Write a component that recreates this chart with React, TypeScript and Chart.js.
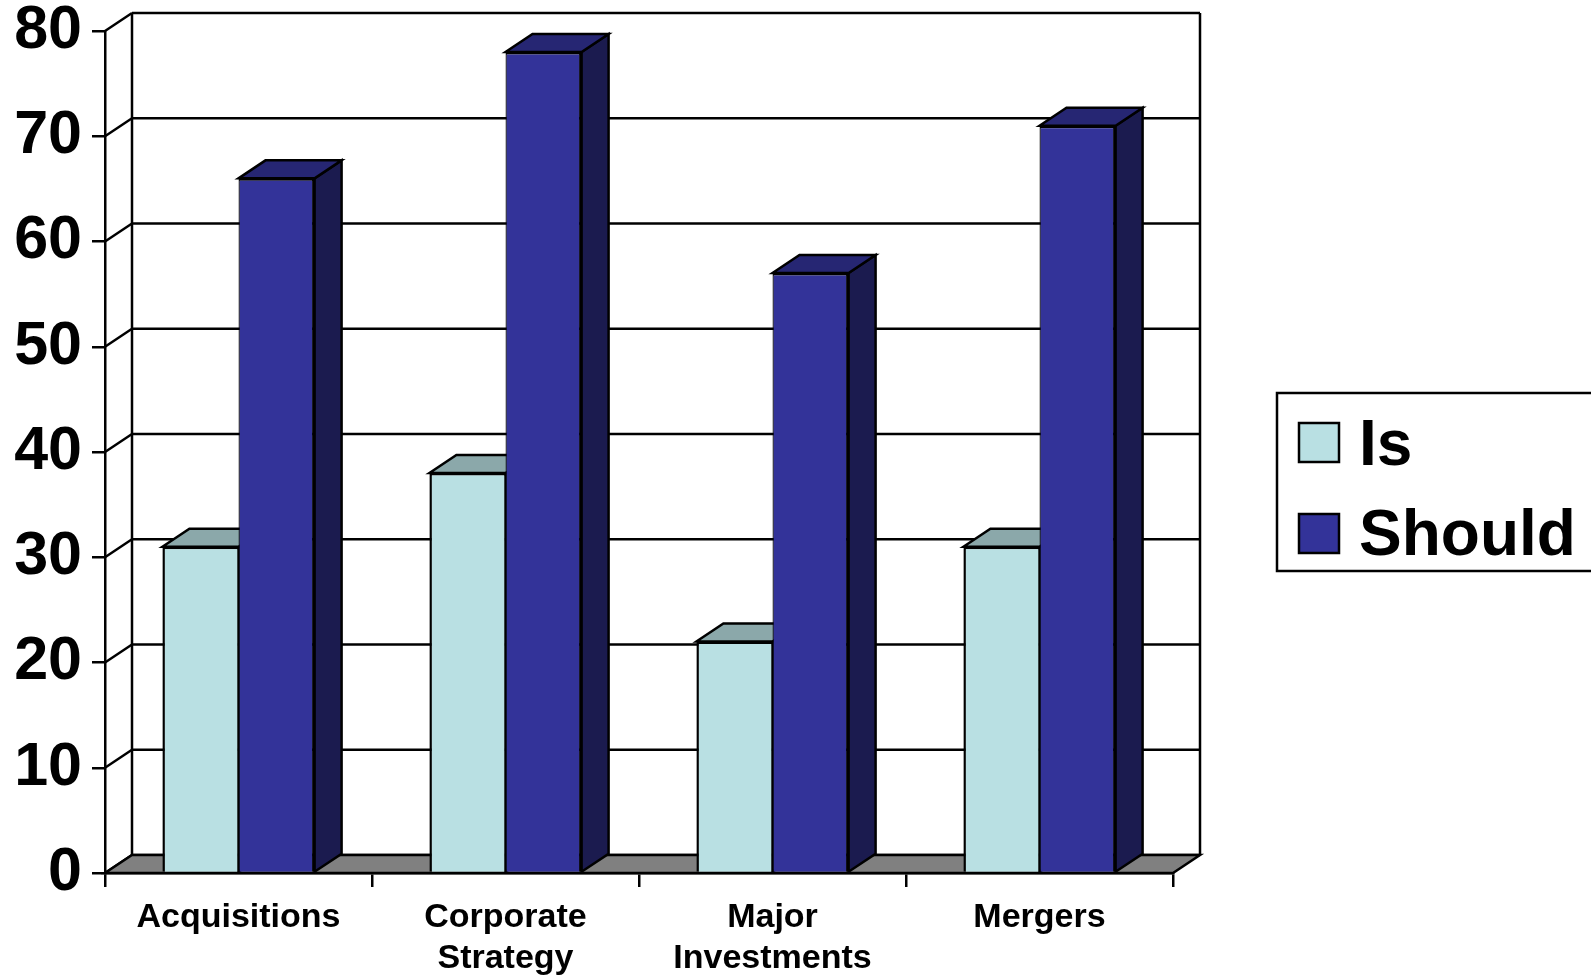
import React, { useEffect, useRef } from 'react';
import { Chart, registerables } from 'chart.js';

Chart.register(...registerables);

// ---- data ----
const categories: string[][] = [['Acquisitions'], ['Corporate', 'Strategy'], ['Major', 'Investments'], ['Mergers']];
const seriesNames = ['Is', 'Should'];
const isValues = [31, 38, 22, 31];
const shouldValues = [66, 78, 57, 71];
const yMin = 0;
const yMax = 80;
const yStep = 10;

// ---- styles ----
const FONT = '"Liberation Sans", Arial, Helvetica, sans-serif';
const frontColors = ['#B9E0E3', '#333399'];
const topColors = ['#8BA8AA', '#262673'];
const sideColors = ['#5D7072', '#1B1B4F'];
const DX = 27;
const DY = 18;
const LW = 2.5;

const threeD = {
  id: 'threeD',
  beforeDatasetsDraw(chart: any) {
    const { ctx, chartArea, scales } = chart;
    const { left, right, top, bottom } = chartArea;
    const y = scales.y;
    ctx.save();
    ctx.lineWidth = LW;
    ctx.strokeStyle = '#000';
    ctx.lineJoin = 'miter';
    const line = (x1: number, y1: number, x2: number, y2: number) => {
      ctx.beginPath();
      ctx.moveTo(x1, y1);
      ctx.lineTo(x2, y2);
      ctx.stroke();
    };
    const poly = (pts: number[][], fill: string) => {
      ctx.beginPath();
      pts.forEach((p, i) => (i === 0 ? ctx.moveTo(p[0], p[1]) : ctx.lineTo(p[0], p[1])));
      ctx.closePath();
      ctx.fillStyle = fill;
      ctx.fill();
      ctx.stroke();
    };
    // back wall
    ctx.fillStyle = '#fff';
    ctx.fillRect(left + DX, top - DY, right - left, bottom - top);
    y.ticks.forEach((t: any) => {
      const py = y.getPixelForValue(t.value);
      line(left + DX, py - DY, right + DX, py - DY);
      line(left, py, left + DX, py - DY);
    });
    line(left + DX, top - DY, left + DX, bottom - DY);
    line(right + DX, top - DY, right + DX, bottom - DY);
    // floor
    poly([[left, bottom], [right, bottom], [right + DX, bottom - DY], [left + DX, bottom - DY]], '#808080');
    // bar depth faces
    const n = chart.data.labels.length;
    for (let i = 0; i < n; i++) {
      chart.data.datasets.forEach((_: any, d: number) => {
        const el = chart.getDatasetMeta(d).data[i];
        if (!el) return;
        const l = el.x - el.width / 2;
        const r = el.x + el.width / 2;
        const t = el.y;
        const b = el.base;
        poly([[r, t], [r + DX, t - DY], [r + DX, b - DY], [r, b]], sideColors[d]);
        poly([[l, t], [l + DX, t - DY], [r + DX, t - DY], [r, t]], topColors[d]);
      });
    }
    ctx.restore();
  },
};

const boxedLegend = {
  id: 'boxedLegend',
  afterDraw(chart: any) {
    const { ctx } = chart;
    ctx.save();
    ctx.lineWidth = LW;
    ctx.strokeStyle = '#000';
    ctx.strokeRect(1277, 393, 400, 178);
    chart.data.datasets.forEach((ds: any, i: number) => {
      const sy = 423 + i * 91;
      ctx.fillStyle = ds.backgroundColor;
      ctx.fillRect(1299, sy, 40, 39);
      ctx.strokeRect(1299, sy, 40, 39);
      ctx.fillStyle = '#000';
      ctx.font = `bold 64px ${FONT}`;
      ctx.textBaseline = 'alphabetic';
      ctx.textAlign = 'left';
      ctx.fillText(ds.label, 1359, 465 + i * 90);
    });
    ctx.restore();
  },
};

export default function App() {
  const ref = useRef<HTMLCanvasElement | null>(null);
  useEffect(() => {
    if (!ref.current) return;
    const chart = new Chart(ref.current, {
      type: 'bar',
      data: {
        labels: categories as any,
        datasets: [
          {
            label: seriesNames[0],
            data: isValues,
            backgroundColor: frontColors[0],
            borderColor: '#000',
            borderWidth: { top: 2.5, left: 2.5, right: 1.25, bottom: 0 } as any,
            categoryPercentage: 0.57,
            barPercentage: 1,
          },
          {
            label: seriesNames[1],
            data: shouldValues,
            backgroundColor: frontColors[1],
            borderColor: '#000',
            borderWidth: { top: 2.5, left: 1.25, right: 2.5, bottom: 0 } as any,
            categoryPercentage: 0.57,
            barPercentage: 1,
          },
        ],
      },
      options: {
        responsive: true,
        maintainAspectRatio: false,
        animation: false,
        layout: { padding: { top: 31, right: 418, bottom: 0, left: 0 } },
        plugins: {
          legend: { display: false },
          tooltip: { enabled: false },
        },
        scales: {
          x: {
            offset: true,
            grid: {
              display: true,
              offset: true,
              drawOnChartArea: false,
              drawTicks: true,
              tickLength: 14,
              color: '#000',
              lineWidth: LW,
            },
            border: { display: true, color: '#000', width: LW },
            ticks: {
              color: '#000',
              padding: 10,
              maxRotation: 0,
              autoSkip: false,
              font: { family: FONT, weight: 'bold', size: 34, lineHeight: 1.2 },
            },
            afterFit: (s: any) => {
              s.height = 103;
              s.paddingLeft = 0;
              s.paddingRight = 0;
            },
          },
          y: {
            min: yMin,
            max: yMax,
            grid: {
              display: true,
              drawOnChartArea: false,
              drawTicks: true,
              tickLength: 13,
              color: '#000',
              lineWidth: LW,
            },
            border: { display: true, color: '#000', width: LW },
            ticks: {
              stepSize: yStep,
              color: '#000',
              padding: 10,
              font: { family: FONT, weight: 'bold', size: 61, lineHeight: 1 },
            },
            afterFit: (s: any) => {
              s.width = 105;
              s.paddingTop = 0;
              s.paddingBottom = 0;
            },
          },
        },
      },
      plugins: [threeD, boxedLegend],
    });
    return () => chart.destroy();
  }, []);
  return (
    <div style={{ position: 'fixed', left: 0, top: 0, width: '1591px', height: '976px', background: '#fff' }}>
      <canvas ref={ref} />
    </div>
  );
}
